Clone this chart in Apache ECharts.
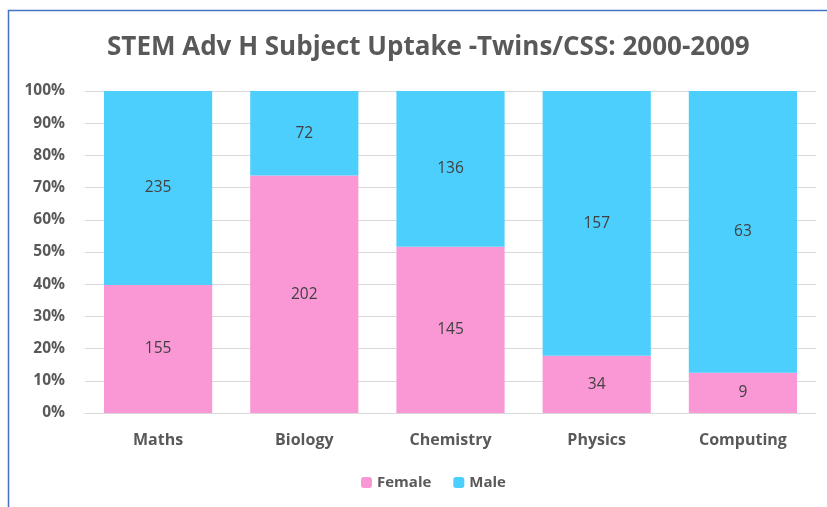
<!DOCTYPE html>
<html><head><meta charset="utf-8">
<script src="https://cdn.jsdelivr.net/npm/echarts@6/dist/echarts.min.js"></script>
<style>html,body{margin:0;padding:0;background:#fff}#c{width:827px;height:507px}</style>
</head><body><div id="c"></div>
<script>
const categories = ['Maths','Biology','Chemistry','Physics','Computing'];
const female = [155,202,145,34,9];
const male = [235,72,136,157,63];
const yTicks = [0,10,20,30,40,50,60,70,80,90,100];

const totals = female.map((f,i)=>f+male[i]);
const femalePct = female.map((f,i)=>f/totals[i]*100);
const malePct = male.map((m,i)=>m/totals[i]*100);

const FONT = 'Open Sans';
const chart = echarts.init(document.getElementById('c'));
const lbl = (raw)=>({show:true,position:'inside',color:'#404040',fontFamily:FONT,fontSize:15.5,
  formatter:p=>raw[p.dataIndex]});
chart.setOption({
  animation:false,
  title:{text:'STEM Adv H Subject Uptake -Twins/CSS: 2000-2009',left:102,top:30,
    textStyle:{fontFamily:FONT,fontWeight:'bold',fontSize:26,color:'#595959'}},
  legend:{top:470,left:356,itemWidth:11,itemHeight:11,itemGap:22,
    textStyle:{fontFamily:FONT,fontWeight:'bold',fontSize:15,color:'#595959'},
    data:['Female','Male']},
  grid:{left:85,right:11,top:91,bottom:94,containLabel:false},
  xAxis:{type:'category',data:categories,
    axisLine:{lineStyle:{color:'#d9d9d9',width:1}},axisTick:{show:false},
    axisLabel:{fontFamily:FONT,fontWeight:'bold',fontSize:16,color:'#595959',margin:19}},
  yAxis:{type:'value',min:0,max:100,interval:10,
    axisLine:{show:false},axisTick:{show:false},
    splitLine:{lineStyle:{color:'#d9d9d9',width:1}},
    axisLabel:{fontFamily:FONT,fontWeight:'bold',fontSize:15.5,color:'#595959',margin:20,
      formatter:v=>v+'%'}},
  series:[
    {name:'Female',type:'bar',stack:'s',data:femalePct,barCategoryGap:'26%',
     itemStyle:{color:'#FA98D6'},label:lbl(female)},
    {name:'Male',type:'bar',stack:'s',data:malePct,barCategoryGap:'26%',
     itemStyle:{color:'#4DCFFE'},label:lbl(male)}
  ],
  graphic:[{type:'rect',shape:{x:8.5,y:10.5,width:900,height:600},
    style:{fill:null,stroke:'#4472C4',lineWidth:1.5},silent:true}]
});
</script></body></html>
